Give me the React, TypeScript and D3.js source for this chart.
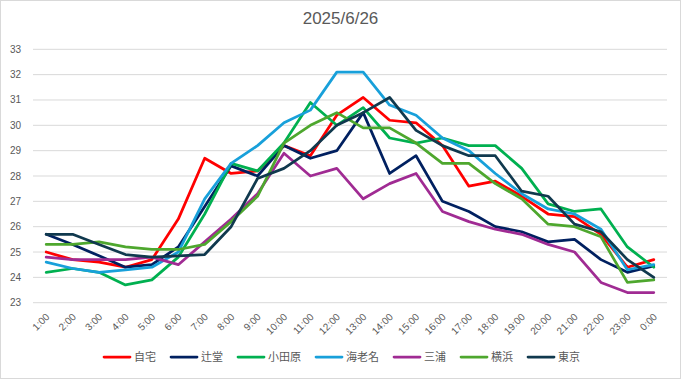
import React from "react";
import * as d3 from "d3";

const hours = ["1:00","2:00","3:00","4:00","5:00","6:00","7:00","8:00","9:00","10:00","11:00","12:00","13:00","14:00","15:00","16:00","17:00","18:00","19:00","20:00","21:00","22:00","23:00","0:00"];

const jitaku = [25.0,24.7,24.6,24.4,24.7,26.3,28.7,28.1,28.2,29.2,28.8,30.4,31.1,30.2,30.1,29.2,27.6,27.8,27.2,26.5,26.4,25.7,24.4,24.7];
const tsujido = [25.7,25.3,24.85,24.4,24.5,25.2,26.8,28.4,28.0,29.2,28.7,29.0,30.5,28.1,28.8,27.0,26.6,26.0,25.8,25.4,25.5,24.7,24.2,24.45];
const odawara = [24.2,24.35,24.2,23.7,23.9,24.8,26.5,28.5,28.2,29.3,30.9,30.0,30.7,29.5,29.3,29.5,29.2,29.2,28.3,26.9,26.6,26.7,25.2,24.4];
const ebina = [24.6,24.35,24.2,24.3,24.4,25.0,27.1,28.5,29.2,30.1,30.6,32.1,32.1,30.8,30.4,29.5,29.0,28.1,27.3,26.7,26.5,25.9,24.3,24.5];
const miura = [24.8,24.7,24.7,24.7,24.8,24.5,25.4,26.3,27.3,28.9,28.0,28.3,27.1,27.7,28.1,26.6,26.2,25.9,25.7,25.3,25.0,23.8,23.4,23.4];
const yokohama = [25.3,25.3,25.4,25.2,25.1,25.1,25.3,26.2,27.2,29.3,30.0,30.5,29.9,29.9,29.3,28.5,28.5,27.7,27.1,26.1,26.0,25.6,23.8,23.9];
const tokyo = [25.7,25.7,25.3,24.9,24.8,24.85,24.9,26.0,27.9,28.3,29.0,30.0,30.5,31.1,29.8,29.2,28.8,28.8,27.4,27.2,26.1,25.8,24.7,24.0];

const seriesNames = ["自宅","辻堂","小田原","海老名","三浦","横浜","東京"];
const seriesValues = [jitaku, tsujido, odawara, ebina, miura, yokohama, tokyo];
const seriesColors = ["#FF0000","#002060","#00B050","#18A0DA","#A02B93","#4EA72E","#10394E"];

const yTicks = [23,24,25,26,27,28,29,30,31,32,33];
const title = "2025/6/26";

const W = 681, H = 379;
const font = "'Liberation Sans', Arial, 'Noto Sans CJK JP', sans-serif";

export default function App() {
  const x = d3.scalePoint<string>().domain(hours).range([33, 667]).padding(0.5);
  const y = d3.scaleLinear().domain([23, 33]).range([302.7, 49.3]);
  const line = d3.line<number>()
    .x((_, i) => x(hours[i]) as number)
    .y((d) => y(d));

  let lx = 104;
  const legendItems = seriesNames.map((n, i) => {
    const start = lx;
    lx += 26 + 4 + n.length * 11 + 15;
    return { n, c: seriesColors[i], x: start };
  });

  return (
    <svg width={W} height={H} style={{ position: "absolute", left: 0, top: 0, background: "#fff" }} fontFamily={font}>
      <rect x={0.5} y={0.5} width={W - 1} height={H - 1} fill="#fff" stroke="#D9D9D9" />
      <text x={340.5} y={24} textAnchor="middle" fontSize={17} fill="#595959">{title}</text>
      {yTicks.map((t) => (
        <g key={t}>
          <line x1={33} x2={667} y1={y(t)} y2={y(t)} stroke="#D9D9D9" strokeWidth={1} />
          <text x={21} y={y(t)} dy="0.35em" textAnchor="end" fontSize={10} fill="#595959">{t}</text>
        </g>
      ))}
      {hours.map((h) => (
        <text key={h} transform={`translate(${(x(h) as number) + 1.5},${315}) rotate(-45)`} textAnchor="end" dy="0.35em" fontSize={10} fill="#595959">{h}</text>
      ))}
      {seriesValues.map((vals, i) => (
        <path key={seriesNames[i]} d={line(vals) || ""} fill="none" stroke={seriesColors[i]} strokeWidth={2.75} strokeLinejoin="round" strokeLinecap="round" />
      ))}
      {legendItems.map((it) => (
        <g key={it.n}>
          <line x1={it.x} x2={it.x + 26} y1={357} y2={357} stroke={it.c} strokeWidth={2.75} strokeLinecap="round" />
          <text x={it.x + 30} y={357} dy="0.35em" fontSize={11} fill="#595959" fontFamily="'Noto Sans CJK JP', sans-serif">{it.n}</text>
        </g>
      ))}
    </svg>
  );
}
